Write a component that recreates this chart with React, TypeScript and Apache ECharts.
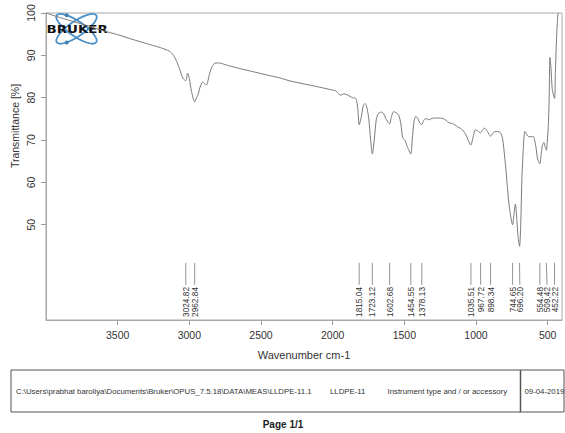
import React, { useEffect, useRef } from "react";
import * as echarts from "echarts";

// Spectrum (wavenumber cm-1, transmittance %)
const waveNumbers = [
  4000, 3900, 3800, 3700, 3600, 3500, 3400, 3300, 3200, 3140, 3110, 3085, 3065, 3045, 3025, 3012,
  3000, 2985, 2963, 2950, 2940, 2925, 2907, 2890, 2880, 2860, 2838, 2815, 2790, 2750, 2720, 2650,
  2550, 2450, 2372, 2303, 2250, 2150, 2093, 2001, 1977, 1955, 1942, 1925, 1907, 1880, 1861, 1838,
  1825, 1815, 1800, 1785, 1773, 1760, 1748, 1735, 1723, 1710, 1695, 1680, 1660, 1645, 1625, 1603,
  1590, 1575, 1560, 1540, 1525, 1512, 1494, 1480, 1455, 1445, 1432, 1420, 1405, 1392, 1378, 1365,
  1349, 1330, 1315, 1292, 1260, 1234, 1210, 1199, 1180, 1164, 1140, 1129, 1110, 1094, 1070, 1055,
  1036, 1022, 1005, 990, 968, 955, 940, 920, 898, 885, 870, 850, 831, 815, 800, 791,
  780, 768, 745, 735, 725, 715, 706, 696, 688, 680, 670, 659, 645, 634, 615, 599,
  590, 582, 570, 554, 545, 536, 527, 518, 509, 502, 496, 490, 484, 477, 468, 452,
  446, 438, 428, 420,
];
const transmittance = [
  100.0, 98.9, 97.9, 96.9, 95.8, 94.9, 93.8, 92.8, 91.8, 91.0, 90.0, 88.3, 86.5, 84.6, 84.0, 85.8,
  84.5, 81.5, 79.0, 80.0, 80.6, 82.5, 83.7, 83.2, 83.0, 85.5, 87.6, 88.2, 88.2, 87.8, 87.5, 86.9,
  86.1, 85.3, 84.7, 84.0, 83.6, 82.9, 82.5, 81.8, 81.6, 80.8, 80.6, 80.9, 80.8, 80.3, 80.0, 79.8,
  77.5, 73.6, 75.5, 78.3, 78.6, 77.5, 75.0, 70.0, 66.7, 70.0, 75.0, 76.3, 76.6, 76.2, 74.8, 73.8,
  75.5, 76.7, 76.5, 75.9, 74.0, 70.6, 69.8, 68.5, 66.7, 70.0, 74.5, 75.6, 75.0, 74.0, 73.7, 74.6,
  75.1, 74.8, 75.0, 75.2, 75.2, 75.1, 74.7, 74.3, 74.0, 73.9, 73.4, 73.1, 72.8, 72.4, 71.2, 70.0,
  68.8, 70.5, 72.4, 72.2, 71.7, 72.4, 72.8, 72.0, 70.9, 71.4, 72.0, 72.0, 71.8, 70.4, 66.0, 62.9,
  58.5, 54.3, 50.0, 52.5, 54.9, 51.0, 47.0, 44.9, 50.0, 60.6, 68.0, 72.0, 71.3, 70.8, 70.8, 70.8,
  69.8, 68.4, 65.5, 64.4, 66.8, 68.8, 69.4, 68.5, 67.6, 70.0, 73.1, 79.0, 89.5, 87.0, 82.0, 79.8,
  86.0, 94.0, 99.8, 100.0,
];

// Peak picks
const peaks = [
  3024.82, 2962.84, 1815.04, 1723.12, 1602.68, 1454.55, 1378.13, 1035.51, 967.72, 898.34,
  744.65, 696.2, 554.48, 509.42, 452.22,
];

const xTickValues = [3500, 3000, 2500, 2000, 1500, 1000, 500];
const yTickValues = [50, 60, 70, 80, 90, 100];

const footerPath = "C:\\Users\\prabhat baroliya\\Documents\\Bruker\\OPUS_7.5.18\\DATA\\MEAS\\LLDPE-11.1";
const footerSample = "LLDPE-11";
const footerInstrument = "Instrument type and / or accessory";
const footerDate = "09-04-2019";

const FONT = "'Liberation Sans', Arial, sans-serif";

export default function App() {
  const ref = useRef<HTMLDivElement>(null);

  useEffect(() => {
    document.body.style.margin = "0";
    if (!ref.current) return;
    const chart = echarts.init(ref.current, null, { renderer: "svg" });

    const spectrum = waveNumbers.map((w, i) => [w, transmittance[i]]);
    const peakLineTop = 41;
    const peakLineBottom = 35.8;
    const peakLabelTop = 35.3;
    const minLabelGap = 7.2;

    const option: any = {
      animation: false,
      backgroundColor: "#fff",
      textStyle: { fontFamily: FONT },
      grid: {
        left: 46,
        top: 13,
        width: 516,
        height: 307,
        show: true,
        borderColor: "#a8a8a8",
        borderWidth: 1,
        backgroundColor: "transparent",
      },
      xAxis: {
        type: "value",
        inverse: true,
        min: 400,
        max: 4000,
        name: "Wavenumber cm-1",
        nameLocation: "middle",
        nameGap: 29,
        nameTextStyle: { fontSize: 11, color: "#333", fontFamily: FONT },
        axisLine: { show: true, lineStyle: { color: "#a8a8a8", width: 1 } },
        axisTick: { show: true, customValues: xTickValues, length: 5, lineStyle: { color: "#999" } },
        axisLabel: {
          customValues: xTickValues,
          formatter: (v: number) => String(v),
          fontSize: 10.5,
          color: "#333",
          margin: 9,
          fontFamily: FONT,
        },
        splitLine: { show: false },
      },
      yAxis: {
        type: "value",
        min: 27.5,
        max: 100,
        axisLine: { show: true, lineStyle: { color: "#a8a8a8", width: 1 } },
        axisTick: { show: true, customValues: yTickValues, length: 5, lineStyle: { color: "#999" } },
        axisLabel: {
          customValues: yTickValues,
          formatter: (v: number) => String(v),
          rotate: 90,
          fontSize: 10.5,
          color: "#333",
          margin: 10,
          fontFamily: FONT,
        },
        splitLine: { show: false },
      },
      series: [
        {
          type: "line",
          data: spectrum,
          showSymbol: false,
          smooth: 0.25,
          lineStyle: { color: "#7a7a7a", width: 1 },
          z: 3,
        },
        {
          type: "custom",
          data: peaks.map((p) => [p, peakLineTop]),
          clip: false,
          z: 4,
          renderItem: (params: any, api: any) => {
            // positions of all peak picks, then push crowded labels apart
            const xs = peaks.map((p) => api.coord([p, peakLineTop])[0]);
            const labelXs: number[] = [];
            xs.forEach((x, i) => {
              labelXs.push(i > 0 && x - labelXs[i - 1] < minLabelGap ? labelXs[i - 1] + minLabelGap : x);
            });
            const i = params.dataIndex;
            const wn = api.value(0);
            const t = api.coord([wn, peakLineTop]);
            const b = api.coord([wn, peakLineBottom]);
            const l = api.coord([wn, peakLabelTop]);
            return {
              type: "group",
              children: [
                {
                  type: "line",
                  shape: { x1: t[0], y1: t[1], x2: labelXs[i], y2: b[1] },
                  style: { stroke: "#777", lineWidth: 0.8 },
                },
                {
                  type: "text",
                  x: labelXs[i],
                  y: l[1],
                  rotation: Math.PI / 2,
                  style: {
                    text: peaks[i].toFixed(2),
                    align: "right",
                    verticalAlign: "middle",
                    fontSize: 8.3,
                    fill: "#333",
                    fontFamily: FONT,
                  },
                },
              ],
            };
          },
        },
      ],
      graphic: [
        // Y axis title
        {
          type: "text",
          x: 15,
          y: 126,
          rotation: Math.PI / 2,
          style: {
            text: "Transmittance [%]",
            align: "center",
            verticalAlign: "middle",
            fontSize: 10.5,
            fill: "#333",
            fontFamily: FONT,
          },
        },
        // Logo
        {
          type: "group",
          z: 10,
          children: [
            {
              type: "ellipse",
              x: 76.5,
              y: 28.8,
              rotation: 0.6,
              shape: { cx: 0, cy: 0, rx: 24, ry: 7.5 },
              style: { fill: "none", stroke: "#4a8fc7", lineWidth: 1.8 },
            },
            {
              type: "ellipse",
              x: 76.5,
              y: 28.8,
              rotation: -0.6,
              shape: { cx: 0, cy: 0, rx: 24, ry: 7.5 },
              style: { fill: "none", stroke: "#4a8fc7", lineWidth: 1.8 },
            },
            { type: "circle", shape: { cx: 66.7, cy: 15.2, r: 2 }, style: { fill: "#3f7fb8" } },
            { type: "circle", shape: { cx: 66.7, cy: 42.6, r: 2 }, style: { fill: "#3f7fb8" } },
            {
              type: "text",
              x: 46.5,
              y: 29.5,
              scaleX: 1.22,
              style: {
                text: "BRUKER",
                align: "left",
                verticalAlign: "middle",
                fontSize: 11,
                fontWeight: 900,
                fill: "#111",
                fontFamily: "'DejaVu Sans', Arial, sans-serif",
              },
            },
          ],
        },
        // Footer table
        {
          type: "rect",
          shape: { x: 11, y: 370, width: 553, height: 42 },
          style: { fill: "none", stroke: "#555", lineWidth: 1 },
        },
        {
          type: "line",
          shape: { x1: 520.5, y1: 370, x2: 520.5, y2: 412 },
          style: { stroke: "#555", lineWidth: 1.5 },
        },
        {
          type: "text",
          x: 16,
          y: 391.5,
          style: { text: footerPath, align: "left", verticalAlign: "middle", fontSize: 7.8, fill: "#333", fontFamily: FONT },
        },
        {
          type: "text",
          x: 330,
          y: 391.5,
          style: { text: footerSample, align: "left", verticalAlign: "middle", fontSize: 7.8, fill: "#333", fontFamily: FONT },
        },
        {
          type: "text",
          x: 387.5,
          y: 391.5,
          style: { text: footerInstrument, align: "left", verticalAlign: "middle", fontSize: 7.8, fill: "#333", fontFamily: FONT },
        },
        {
          type: "text",
          x: 524.5,
          y: 391.5,
          style: { text: footerDate, align: "left", verticalAlign: "middle", fontSize: 7.8, fill: "#333", fontFamily: FONT },
        },
        {
          type: "text",
          x: 283,
          y: 424.5,
          style: {
            text: "Page 1/1",
            align: "center",
            verticalAlign: "middle",
            fontSize: 10,
            fontWeight: "bold",
            fill: "#222",
            fontFamily: FONT,
          },
        },
      ],
    };

    chart.setOption(option);
    return () => chart.dispose();
  }, []);

  return <div ref={ref} style={{ width: 565, height: 433 }} />;
}
